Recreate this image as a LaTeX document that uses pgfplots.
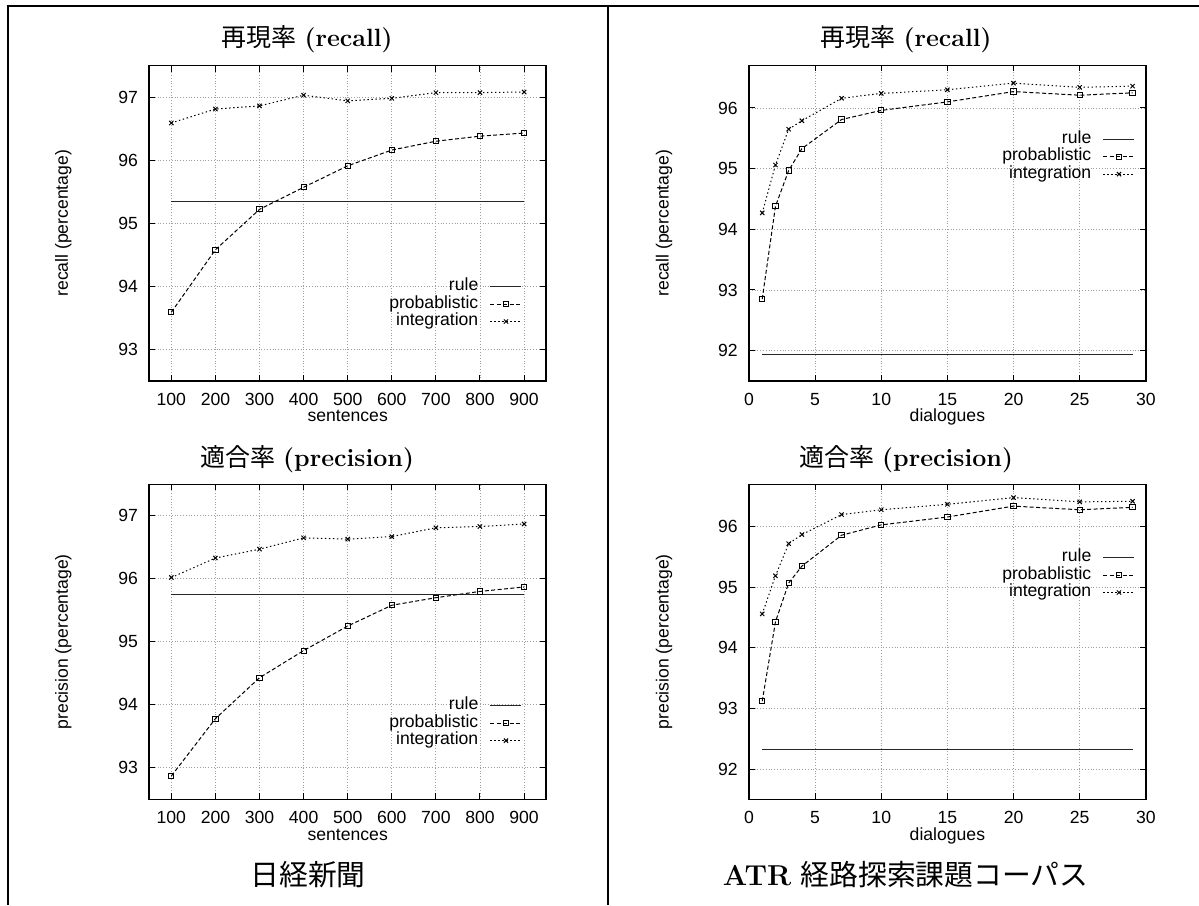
\documentclass[border=0pt]{standalone}
\usepackage{pgfplots}
\pgfplotsset{compat=1.18}
\usepackage{fontspec}
\newfontfamily\jp{Noto Sans CJK JP}
\newfontfamily\hv{Liberation Sans}
\newcommand\hvs{\hv\fontsize{8.8}{10}\selectfont}
\begin{document}
\begin{tikzpicture}
\useasboundingbox (0,0) rectangle (599.5pt,452.5pt);
\pgfplotsset{
  gp/.style={
    scale only axis, width=198.4pt, height=157.6pt,
    axis line style={line width=0.8pt},
    tick align=inside, tick pos=both, major tick length=3pt,
    tick style={line width=0.5pt, black},
    grid=major, major grid style={densely dotted, gray!75, line width=0.45pt},
    /pgf/number format/assume math mode=true,
    tick label style={font=\hvs},
    label style={font=\hvs},
    yticklabel style={anchor=east, inner sep=0pt, xshift=-5.5pt},
    xticklabel style={anchor=base, inner sep=0pt, yshift=-12.2pt},
    xlabel style={at={([yshift=-20.5pt]rel axis cs:0.5,0)}, anchor=base, inner sep=0pt},
    legend style={draw=none, fill=none, inner sep=0pt, anchor=east, font=\hvs,
      nodes={inner sep=0pt, text height=6.5pt, text depth=2.25pt}, column sep=5.8pt},
    legend cell align=right, legend plot pos=right,
    legend image code/.code={\draw[mark repeat=2, mark phase=2, ##1] plot coordinates {(0pt,0pt) (7.75pt,0pt) (15.5pt,0pt)};},
  },
  rulep/.style={black!85, line width=0.6pt, no marks},
  probp/.style={black, line width=0.5pt, dash pattern=on 2pt off 1.2pt, mark=square, mark size=1.3pt, mark options={solid, line width=0.5pt}},
  intp/.style={black, line width=0.5pt, dash pattern=on 0.7pt off 1.3pt, mark=x, mark size=1.5pt, mark options={solid, line width=0.5pt}},
}

% frame
\draw[line width=1.17pt] (3.4pt,449.4pt) -- (599.5pt,449.4pt);
\draw[line width=0.85pt] (3.83pt,449.9pt) -- (3.83pt,0pt);
\draw[line width=1pt] (304pt,449.9pt) -- (304pt,0pt);

% titles
\node[font=\fontsize{12.5}{15}\selectfont] at (153.5pt,433.1pt) {{\jp 再現率} {\bfseries (recall)}};
\node[font=\fontsize{12.5}{15}\selectfont] at (453pt,433.1pt) {{\jp 再現率} {\bfseries (recall)}};
\node[font=\fontsize{12.5}{15}\selectfont] at (153.5pt,223pt) {{\jp 適合率} {\bfseries (precision)}};
\node[font=\fontsize{12.5}{15}\selectfont] at (453pt,223pt) {{\jp 適合率} {\bfseries (precision)}};
\node[font=\fontsize{14.4}{17}\selectfont] at (154pt,15.3pt) {\jp 日経新聞};
\node[font=\fontsize{14.4}{17}\selectfont] at (452.8pt,15.3pt) {{\bfseries ATR} {\jp 経路探索課題コーパス}};

% top-left
\begin{axis}[gp, at={(74.65pt,262pt)}, anchor=south west, height=157.75pt,
  xmin=50, xmax=950, ymin=92.5, ymax=97.5,
  xtick={100,200,...,900}, ytick={93,94,...,97},
  xlabel={sentences}, ylabel={recall (percentage)},
  ylabel style={at={([xshift=-43pt]rel axis cs:0,0.5)}, anchor=center, inner sep=0pt},
  legend style={at={(rel axis cs:0.9405,0.244)}}]
\addplot[rulep] coordinates {(100,95.34) (900,95.34)};
\addlegendentry{rule}
\addplot[probp] coordinates {(100,93.59) (200,94.58) (300,95.22) (400,95.57) (500,95.91) (600,96.16) (700,96.30) (800,96.38) (900,96.43)};
\addlegendentry{probablistic}
\addplot[intp] coordinates {(100,96.59) (200,96.81) (300,96.86) (400,97.03) (500,96.94) (600,96.98) (700,97.07) (800,97.07) (900,97.08)};
\addlegendentry{integration}
\end{axis}

% bottom-left
\begin{axis}[gp, at={(74.65pt,52.85pt)}, anchor=south west, height=157.5pt,
  xmin=50, xmax=950, ymin=92.5, ymax=97.5,
  xtick={100,200,...,900}, ytick={93,94,...,97},
  xlabel={sentences}, ylabel={precision (percentage)},
  ylabel style={at={([xshift=-43pt]rel axis cs:0,0.5)}, anchor=center, inner sep=0pt},
  legend style={at={(rel axis cs:0.9405,0.242)}}]
\addplot[rulep] coordinates {(100,95.75) (900,95.75)};
\addlegendentry{rule}
\addplot[probp] coordinates {(100,92.87) (200,93.78) (300,94.43) (400,94.86) (500,95.25) (600,95.58) (700,95.70) (800,95.80) (900,95.87)};
\addlegendentry{probablistic}
\addplot[intp] coordinates {(100,96.02) (200,96.33) (300,96.47) (400,96.65) (500,96.63) (600,96.67) (700,96.81) (800,96.83) (900,96.87)};
\addlegendentry{integration}
\end{axis}

% top-right
\begin{axis}[gp, at={(374.5pt,262pt)}, anchor=south west, height=157.75pt,
  xmin=0, xmax=30, ymin=91.5, ymax=96.7,
  xtick={0,5,...,30}, ytick={92,93,...,96},
  xlabel={dialogues}, ylabel={recall (percentage)},
  ylabel style={at={([xshift=-42.5pt]rel axis cs:0,0.5)}, anchor=center, inner sep=0pt},
  legend style={at={(rel axis cs:0.974,0.711)}}]
\addplot[rulep] coordinates {(1,91.94) (29,91.94)};
\addlegendentry{rule}
\addplot[probp] coordinates {(1,92.85) (2,94.38) (3,94.97) (4,95.33) (7,95.81) (10,95.96) (15,96.10) (20,96.27) (25,96.21) (29,96.25)};
\addlegendentry{probablistic}
\addplot[intp] coordinates {(1,94.27) (2,95.06) (3,95.65) (4,95.79) (7,96.16) (10,96.24) (15,96.30) (20,96.41) (25,96.34) (29,96.36)};
\addlegendentry{integration}
\end{axis}

% bottom-right
\begin{axis}[gp, at={(374.5pt,52.85pt)}, anchor=south west, height=157.5pt,
  xmin=0, xmax=30, ymin=91.5, ymax=96.7,
  xtick={0,5,...,30}, ytick={92,93,...,96},
  xlabel={dialogues}, ylabel={precision (percentage)},
  ylabel style={at={([xshift=-42.5pt]rel axis cs:0,0.5)}, anchor=center, inner sep=0pt},
  legend style={at={(rel axis cs:0.974,0.712)}}]
\addplot[rulep] coordinates {(1,92.32) (29,92.32)};
\addlegendentry{rule}
\addplot[probp] coordinates {(1,93.12) (2,94.43) (3,95.07) (4,95.35) (7,95.86) (10,96.03) (15,96.16) (20,96.34) (25,96.28) (29,96.32)};
\addlegendentry{probablistic}
\addplot[intp] coordinates {(1,94.56) (2,95.19) (3,95.72) (4,95.87) (7,96.20) (10,96.28) (15,96.37) (20,96.48) (25,96.41) (29,96.42)};
\addlegendentry{integration}
\end{axis}
\end{tikzpicture}
\end{document}
